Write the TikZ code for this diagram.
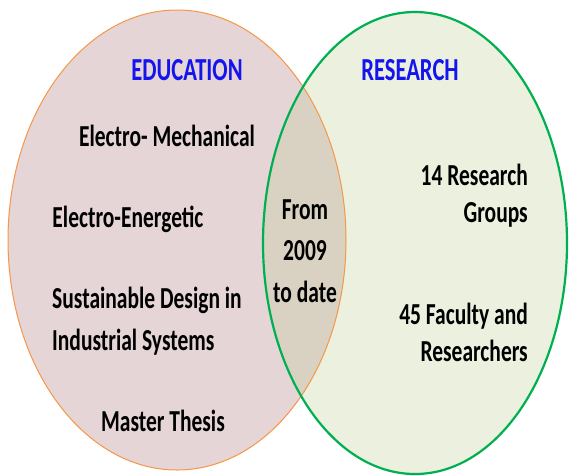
\documentclass[tikz,border=0pt]{standalone}
\usepackage{fontspec}
\setmainfont{Carlito}
\usepackage{tikz}
\usetikzlibrary{positioning}

\definecolor{edufill}{HTML}{E5D5D6}
\definecolor{eduline}{HTML}{F79646}
\definecolor{resfill}{HTML}{EBF0DF}
\definecolor{resline}{HTML}{00B050}
\definecolor{bothfill}{HTML}{D9D2C2}
\definecolor{headblue}{HTML}{1414EE}

\begin{document}
\begin{tikzpicture}[x=1pt,y=-1pt,
    txt/.style={font=\bfseries\fontsize{21.5}{29}\selectfont,yscale=1.42,inner sep=0pt,anchor=base},
    righttxt/.style={txt,font=\bfseries\fontsize{21.5}{26}\selectfont,align=right,anchor=base east},
    head/.style={txt,font=\bfseries\fontsize{22.6}{27}\selectfont,text=headblue}]
      \useasboundingbox (0,0) rectangle (569,475);
      % the two sets and their overlap
      \fill[edufill] (177,240) ellipse [x radius=169,y radius=230];
      \fill[resfill] (415,243) ellipse [x radius=152,y radius=231];
      \begin{scope}
        \clip (177,240) ellipse [x radius=169,y radius=230];
        \fill[bothfill] (415,243) ellipse [x radius=152,y radius=231];
      \end{scope}
      \draw[eduline,line width=1pt] (177,240) ellipse [x radius=169,y radius=230];
      \draw[resline,line width=2.2pt] (415,243) ellipse [x radius=152,y radius=231];

      \node[head] (edu) at (187,80) {EDUCATION};
      \node[head] (res) at (410,80) {RESEARCH};

      \node[txt] (mech) at (167,146) {Electro- Mechanical};
      \node[txt] (ener) at (128,227) {Electro-Energetic};
      \node[txt,align=left,anchor=base west] (sust) at (52,350) {Sustainable Design in\\Industrial Systems};
      \node[txt] (thesis) at (163,431) {Master Thesis};

      % last line sits on the given point
      \node[txt,align=center] (date) at (305,302) {From\\2009\\to date};

      \node[righttxt] (groups) at (528,222) {14 Research\\Groups};
      \node[righttxt] (staff) at (528,361) {45 Faculty and\\Researchers};
    \end{tikzpicture}
\end{document}
